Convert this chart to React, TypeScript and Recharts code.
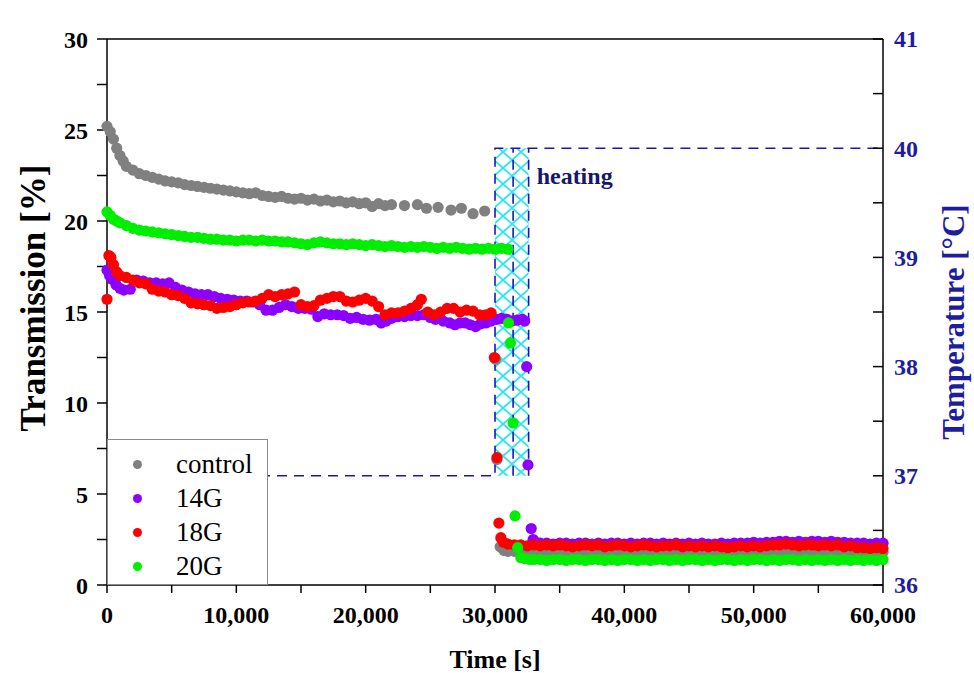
import {
  ComposedChart,
  Scatter,
  Line,
  XAxis,
  YAxis,
  ReferenceArea,
  ReferenceLine,
  Legend,
  Label,
} from "recharts"

const FONT = '"Liberation Serif", "Times New Roman", Times, serif'
const NAVY = "#1d1d9e"
const DASH_BLUE = "#1616bf"

// [time s, transmission %]
const control: [number, number][] = [
  [0, 25.2], [250, 24.9], [500, 24.5], [750, 24.0], [1000, 23.6], [1250, 23.3], [1500, 23.0],
  [2000, 22.8], [2500, 22.6], [3000, 22.5], [3500, 22.4], [4000, 22.3], [4500, 22.2], [5000, 22.15],
  [5500, 22.1], [6000, 22.0], [6500, 21.95], [7000, 21.9], [7500, 21.85], [8000, 21.8], [8500, 21.75],
  [9000, 21.7], [9500, 21.65], [10000, 21.6], [10500, 21.55], [11000, 21.5], [11500, 21.55], [12000, 21.4],
  [12500, 21.35], [13000, 21.3], [13500, 21.35], [14000, 21.25], [14500, 21.2], [15000, 21.25], [15500, 21.15],
  [16000, 21.2], [16500, 21.1], [17000, 21.15], [17500, 21.05], [18000, 21.1], [18500, 21.0], [19000, 21.05],
  [19500, 20.95], [20000, 21.0], [20500, 20.8], [21000, 20.95], [21500, 20.85], [22000, 20.9], [23000, 20.85],
  [24000, 20.9], [24700, 20.7], [25600, 20.75], [26600, 20.6], [27400, 20.7], [28300, 20.4], [29200, 20.55],
  [30050, 12.4], [30150, 6.9], [30400, 2.1], [30700, 1.9], [31000, 1.85], [31500, 1.85], [32000, 1.8],
  [32500, 1.85], [33000, 1.85], [33500, 1.8], [34000, 1.85], [34500, 1.8], [35000, 1.85], [35500, 1.85],
  [36000, 1.8], [36500, 1.85], [37000, 1.8], [37500, 1.85], [38000, 1.85], [38500, 1.8], [39000, 1.85],
  [39500, 1.8], [40000, 1.85], [40500, 1.8], [41000, 1.85], [41500, 1.85], [42000, 1.8], [42500, 1.85],
  [43000, 1.8], [43500, 1.85], [44000, 1.8], [44500, 1.85], [45000, 1.85], [45500, 1.8], [46000, 1.85],
  [46500, 1.8], [47000, 1.85], [47500, 1.8], [48000, 1.8], [48500, 1.85], [49000, 1.8], [49500, 1.85],
  [50000, 1.8], [50500, 1.85], [51000, 1.85], [51500, 1.8], [52000, 1.85], [52500, 1.85], [53000, 1.8],
  [53500, 1.85], [54000, 1.8], [54500, 1.85], [55000, 1.8], [55500, 1.85], [56000, 1.8], [56500, 1.85],
  [57000, 1.8], [57500, 1.8], [58000, 1.85], [58500, 1.8], [59000, 1.8], [59500, 1.85], [60000, 1.8],
]

const g14: [number, number][] = [
  [0, 17.3], [200, 17.0], [400, 16.8], [700, 16.5], [1000, 16.3], [1300, 16.2], [1800, 16.25],
  [2300, 16.75], [2800, 16.7], [3300, 16.6], [3800, 16.6], [4300, 16.55], [4800, 16.6], [5300, 16.35],
  [5800, 16.2], [6300, 16.1], [6800, 16.0], [7300, 15.95], [7800, 15.95], [8300, 15.85], [8800, 15.75],
  [9300, 15.7], [9800, 15.65], [10300, 15.6], [10800, 15.6], [11300, 15.55], [11800, 15.4], [12300, 15.1],
  [12800, 15.1], [13300, 15.25], [13800, 15.4], [14300, 15.3], [14800, 15.2], [15300, 15.2], [15800, 15.15],
  [16300, 14.75], [16800, 14.9], [17300, 14.85], [17800, 14.85], [18300, 14.8], [18800, 14.65], [19300, 14.7],
  [19800, 14.6], [20300, 14.55], [20800, 14.6], [21200, 14.4], [21600, 14.5], [22000, 14.65], [22500, 14.75],
  [23000, 14.75], [23500, 14.8], [24000, 14.8], [24500, 14.85], [25000, 14.7], [25400, 14.6], [26000, 14.5],
  [26500, 14.4], [26900, 14.3], [27300, 14.4], [27700, 14.4], [28100, 14.3], [28500, 14.2], [28900, 14.35],
  [29300, 14.4], [29700, 14.5], [30100, 14.6], [30500, 14.65], [30900, 14.6], [31300, 14.5], [31700, 14.55],
  [32100, 14.6], [32300, 14.5], [32450, 12.0], [32550, 6.6], [32800, 3.1], [32950, 2.5], [33150, 2.35],
  [33500, 2.3], [34000, 2.3], [34500, 2.25], [35000, 2.3], [35500, 2.3], [36000, 2.25], [36500, 2.3],
  [37000, 2.3], [37500, 2.25], [38000, 2.3], [38500, 2.25], [39000, 2.3], [39500, 2.3], [40000, 2.25],
  [40500, 2.3], [41000, 2.25], [41500, 2.3], [42000, 2.3], [42500, 2.25], [43000, 2.3], [43500, 2.25],
  [44000, 2.3], [44500, 2.25], [45000, 2.3], [45500, 2.25], [46000, 2.3], [46500, 2.25], [47000, 2.25],
  [47500, 2.3], [48000, 2.25], [48500, 2.3], [49000, 2.3], [49500, 2.3], [50000, 2.35], [50500, 2.3],
  [51000, 2.35], [51500, 2.35], [52000, 2.4], [52500, 2.4], [53000, 2.35], [53500, 2.4], [54000, 2.35],
  [54500, 2.4], [55000, 2.4], [55500, 2.35], [56000, 2.4], [56500, 2.35], [57000, 2.35], [57500, 2.3],
  [58000, 2.3], [58500, 2.3], [59000, 2.25], [59500, 2.3], [60000, 2.3],
]

const g18: [number, number][] = [
  [0, 15.7], [150, 18.1], [300, 18.0], [500, 17.6], [750, 17.2], [1000, 17.0], [1500, 16.9],
  [2000, 16.75], [2500, 16.6], [3000, 16.55], [3500, 16.25], [4000, 16.15], [4500, 16.1], [5000, 15.95],
  [5500, 15.9], [6000, 15.75], [6500, 15.5], [7000, 15.45], [7500, 15.4], [8000, 15.35], [8500, 15.2],
  [9000, 15.25], [9500, 15.3], [10000, 15.4], [10500, 15.5], [11000, 15.55], [11500, 15.6], [12000, 15.75],
  [12500, 15.95], [13000, 15.85], [13500, 15.95], [14000, 16.0], [14500, 16.1], [15000, 15.4], [15500, 15.3],
  [16000, 15.35], [16500, 15.65], [17000, 15.75], [17500, 15.85], [18000, 15.85], [18500, 15.6], [19000, 15.55],
  [19500, 15.65], [20000, 15.75], [20500, 15.6], [21000, 15.3], [21500, 14.85], [22000, 14.95], [22500, 14.95],
  [23000, 15.05], [23500, 15.2], [24000, 15.4], [24300, 15.7], [24800, 15.0], [25300, 14.85], [25800, 15.0],
  [26300, 15.2], [26800, 15.2], [27300, 15.0], [27800, 15.1], [28300, 15.05], [28800, 14.85], [29300, 14.85],
  [29700, 14.95], [29950, 12.5], [30150, 7.0], [30300, 3.4], [30450, 2.6], [30650, 2.35], [31000, 2.25],
  [31500, 2.2], [32000, 2.2], [32500, 2.15], [33000, 2.2], [33500, 2.15], [34000, 2.2], [34500, 2.15],
  [35000, 2.2], [35500, 2.15], [36000, 2.1], [36500, 2.15], [37000, 2.2], [37500, 2.15], [38000, 2.2],
  [38500, 2.1], [39000, 2.15], [39500, 2.2], [40000, 2.15], [40500, 2.1], [41000, 2.15], [41500, 2.2],
  [42000, 2.15], [42500, 2.1], [43000, 2.15], [43500, 2.15], [44000, 2.2], [44500, 2.1], [45000, 2.15],
  [45500, 2.1], [46000, 2.15], [46500, 2.1], [47000, 2.15], [47500, 2.1], [48000, 2.05], [48500, 2.1],
  [49000, 2.15], [49500, 2.1], [50000, 2.15], [50500, 2.1], [51000, 2.15], [51500, 2.2], [52000, 2.2],
  [52500, 2.25], [53000, 2.2], [53500, 2.15], [54000, 2.2], [54500, 2.2], [55000, 2.15], [55500, 2.2],
  [56000, 2.15], [56500, 2.2], [57000, 2.1], [57500, 2.15], [58000, 2.05], [58500, 2.05], [59000, 2.0],
  [59500, 2.05], [60000, 2.0],
]

const g20: [number, number][] = [
  [0, 20.5], [250, 20.3], [500, 20.1], [750, 20.0], [1000, 19.9], [1500, 19.75], [2000, 19.6],
  [2500, 19.5], [3000, 19.45], [3500, 19.4], [4000, 19.35], [4500, 19.3], [5000, 19.25], [5500, 19.2],
  [6000, 19.15], [6500, 19.1], [7000, 19.1], [7500, 19.05], [8000, 19.0], [8500, 19.0], [9000, 18.95],
  [9500, 18.95], [10000, 18.9], [10500, 18.95], [11000, 18.95], [11500, 18.9], [12000, 18.95], [12500, 18.9],
  [13000, 18.9], [13500, 18.85], [14000, 18.85], [14500, 18.8], [15000, 18.75], [15500, 18.7], [16000, 18.8],
  [16500, 18.85], [17000, 18.8], [17500, 18.75], [18000, 18.75], [18500, 18.7], [19000, 18.75], [19500, 18.7],
  [20000, 18.65], [20500, 18.7], [21000, 18.65], [21500, 18.6], [22000, 18.65], [22500, 18.6], [23000, 18.55],
  [23500, 18.6], [24000, 18.55], [24500, 18.6], [25000, 18.55], [25500, 18.5], [26000, 18.55], [26500, 18.5],
  [27000, 18.55], [27500, 18.5], [28000, 18.45], [28500, 18.5], [29000, 18.45], [29500, 18.5], [30000, 18.45],
  [30500, 18.5], [31000, 18.45], [31050, 14.4], [31200, 13.3], [31400, 8.9], [31550, 3.8], [31750, 2.05],
  [32000, 1.5], [32300, 1.45], [32700, 1.4], [33000, 1.4], [33500, 1.4], [34000, 1.35], [34500, 1.4],
  [35000, 1.4], [35500, 1.35], [36000, 1.4], [36500, 1.4], [37000, 1.35], [37500, 1.4], [38000, 1.4],
  [38500, 1.35], [39000, 1.4], [39500, 1.35], [40000, 1.4], [40500, 1.4], [41000, 1.35], [41500, 1.4],
  [42000, 1.35], [42500, 1.4], [43000, 1.4], [43500, 1.35], [44000, 1.4], [44500, 1.35], [45000, 1.4],
  [45500, 1.4], [46000, 1.35], [46500, 1.4], [47000, 1.35], [47500, 1.4], [48000, 1.4], [48500, 1.35],
  [49000, 1.4], [49500, 1.35], [50000, 1.4], [50500, 1.4], [51000, 1.35], [51500, 1.4], [52000, 1.35],
  [52500, 1.4], [53000, 1.4], [53500, 1.35], [54000, 1.4], [54500, 1.35], [55000, 1.4], [55500, 1.35],
  [56000, 1.4], [56500, 1.35], [57000, 1.4], [57500, 1.35], [58000, 1.4], [58500, 1.35], [59000, 1.4],
  [59500, 1.35], [60000, 1.4],
]

// temperature profile [°C]
const tempTimes = [0, 30000, 30000, 60000]
const tempValues = [37, 37, 40, 40]
const heatingFrom = 30000
const heatingTo = 32600
const heatingSteps = [31400, 32600]
const heatingLow = 37
const heatingHigh = 40

const timeTicks = [0, 5000, 10000, 15000, 20000, 25000, 30000, 35000, 40000, 45000, 50000, 55000, 60000]
const transTicks = [0, 2.5, 5, 7.5, 10, 12.5, 15, 17.5, 20, 22.5, 25, 27.5, 30]
const tempTicks = [36, 36.5, 37, 37.5, 38, 38.5, 39, 39.5, 40, 40.5, 41]

const series = [
  { name: "control", color: "#808080", points: control },
  { name: "14G", color: "#8b00ff", points: g14 },
  { name: "18G", color: "#ff0000", points: g18 },
  { name: "20G", color: "#00ee00", points: g20 },
]

const tempData = tempTimes.map((t, i) => ({ t, temp: tempValues[i] }))

const tickFont = { fontFamily: FONT, fontSize: 24, fontWeight: 700 }
const axisStroke = { stroke: "#000", strokeWidth: 1.5 }

function RightTick(props: any) {
  const { x, y, payload } = props
  const major = Number.isInteger(payload.value)
  return (
    <g>
      <line x1={x - 21} x2={x - 11} y1={y} y2={y} stroke="#000" strokeWidth={1.5} />
      {major && (
        <text x={x} y={y} dy="0.35em" textAnchor="start" fill={NAVY} {...tickFont}>
          {payload.value}
        </text>
      )}
    </g>
  )
}

function LegendBox() {
  return (
    <div
      style={{
        position: "relative",
        width: 161,
        height: 146,
        boxSizing: "border-box",
        border: "1px solid #8a8a8a",
        background: "#fff",
        fontFamily: FONT,
        fontSize: 27,
      }}
    >
      {series.map((s, i) => (
        <div
          key={s.name}
          style={{ position: "absolute", left: 0, top: 7 + i * 34, height: 34, display: "flex", alignItems: "center" }}
        >
          <span
            style={{
              position: "absolute",
              left: 25,
              width: 9,
              height: 9,
              borderRadius: "50%",
              background: s.color,
            }}
          />
          <span style={{ position: "absolute", left: 68, lineHeight: "34px", whiteSpace: "nowrap" }}>{s.name}</span>
        </div>
      ))}
    </div>
  )
}

export default function App() {
  return (
    <div style={{ position: "absolute", left: 0, top: 0, width: 974, height: 673, background: "#fff" }}>
      <ComposedChart width={974} height={673} margin={{ top: 39, right: 0, bottom: 7, left: 0 }}>
        <defs>
          <pattern id="hatch" width="18" height="16" patternUnits="userSpaceOnUse" x="494">
            <path d="M0,0 L18,16 M18,0 L0,16" stroke="#2fe3f2" strokeWidth="1.8" />
          </pattern>
        </defs>
        <XAxis
          xAxisId="t"
          type="number"
          dataKey="t"
          domain={[0, 60000]}
          ticks={timeTicks}
          interval={0}
          height={81}
          tickSize={8}
          tickMargin={13}
          tickFormatter={(v: number) => (v % 10000 === 0 ? v.toLocaleString("en-US") : "")}
          tick={{ fill: "#000", ...tickFont }}
          axisLine={axisStroke}
          tickLine={axisStroke}
        >
          <Label
            content={(p: any) => (
              <text
                x={p.viewBox.x + p.viewBox.width / 2}
                y={p.viewBox.y + 83}
                textAnchor="middle"
                fontFamily={FONT}
                fontSize={26}
                fontWeight={700}
                fill="#000"
              >
                Time [s]
              </text>
            )}
          />
        </XAxis>
        <YAxis
          yAxisId="left"
          type="number"
          dataKey="v"
          domain={[0, 30]}
          ticks={transTicks}
          interval={0}
          width={107}
          tickSize={10}
          tickMargin={9}
          tickFormatter={(v: number) => (v % 5 === 0 ? String(v) : "")}
          tick={{ fill: "#000", ...tickFont }}
          axisLine={axisStroke}
          tickLine={axisStroke}
        >
          <Label
            content={(p: any) => {
              const cy = p.viewBox.y + p.viewBox.height / 2 - 14
              return (
                <text
                  x={45}
                  y={cy}
                  transform={`rotate(-90, 45, ${cy})`}
                  textAnchor="middle"
                  fontFamily={FONT}
                  fontSize={35}
                  fontWeight={700}
                  fill="#000"
                >
                  Transmission [%]
                </text>
              )
            }}
          />
        </YAxis>
        <YAxis
          yAxisId="right"
          orientation="right"
          type="number"
          domain={[36, 41]}
          ticks={tempTicks}
          interval={0}
          width={91}
          tickSize={0}
          tickMargin={11}
          tickLine={false}
          tick={<RightTick />}
          axisLine={axisStroke}
        >
          <Label
            content={(p: any) => {
              const bx = p.viewBox.x + 81
              const cy = p.viewBox.y + p.viewBox.height / 2 + 10
              return (
                <text
                  x={bx}
                  y={cy}
                  transform={`rotate(-90, ${bx}, ${cy})`}
                  textAnchor="middle"
                  fontFamily={FONT}
                  fontSize={31}
                  fontWeight={700}
                  fill={NAVY}
                >
                  Temperature [°C]
                </text>
              )
            }}
          />
        </YAxis>
        <ReferenceLine xAxisId="t" yAxisId="left" y={30} stroke="#000" strokeWidth={1.5} />
        <ReferenceArea
          xAxisId="t"
          yAxisId="right"
          x1={heatingFrom}
          x2={heatingTo}
          y1={heatingLow}
          y2={heatingHigh}
          fill="url(#hatch)"
          fillOpacity={1}
          stroke="none"
          label={(p: any) => (
            <text
              x={p.viewBox.x + p.viewBox.width + 8}
              y={p.viewBox.y + 36}
              fontFamily={FONT}
              fontSize={24}
              fontWeight={700}
              fill="#16166e"
            >
              heating
            </text>
          )}
        />
        <Line
          xAxisId="t"
          yAxisId="right"
          data={tempData}
          dataKey="temp"
          type="linear"
          stroke={DASH_BLUE}
          strokeWidth={1.6}
          strokeDasharray="10 7"
          dot={false}
          activeDot={false}
          legendType="none"
          isAnimationActive={false}
        />
        {heatingSteps.map((x) => (
          <ReferenceLine
            key={x}
            xAxisId="t"
            yAxisId="right"
            segment={[
              { x, y: heatingLow },
              { x, y: heatingHigh },
            ]}
            stroke={DASH_BLUE}
            strokeWidth={1.6}
            strokeDasharray="10 7"
          />
        ))}
        {series.map((s) => (
          <Scatter
            key={s.name}
            name={s.name}
            xAxisId="t"
            yAxisId="left"
            dataKey="v"
            data={s.points.map(([t, v]) => ({ t, v }))}
            fill={s.color}
            shape={(p: any) => <circle cx={p.cx} cy={p.cy} r={5.6} fill={s.color} />}
            isAnimationActive={false}
          />
        ))}
        <Legend
          layout="vertical"
          align="center"
          verticalAlign="middle"
          wrapperStyle={{ left: 107, top: 439, width: 161, height: 146 }}
          content={() => <LegendBox />}
        />
      </ComposedChart>
    </div>
  )
}
